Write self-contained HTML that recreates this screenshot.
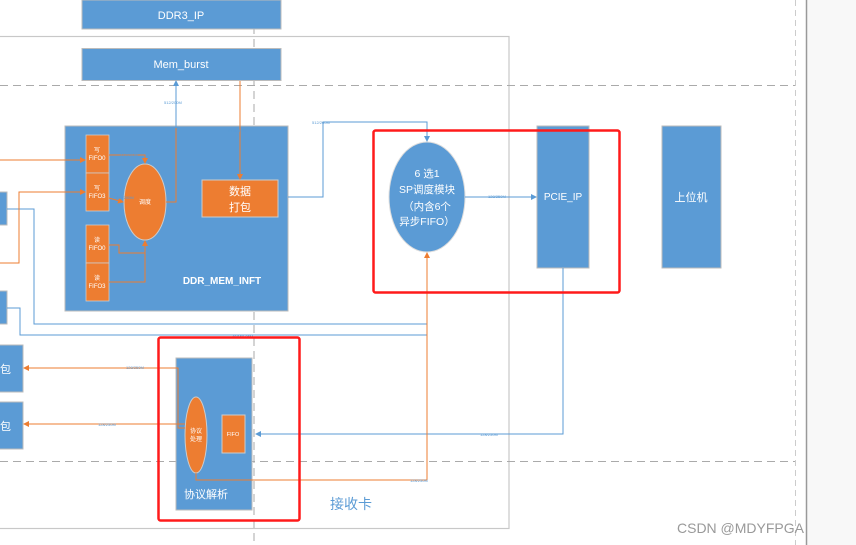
<!DOCTYPE html>
<html><head><meta charset="utf-8"><style>
html,body{margin:0;padding:0;background:#fff}
svg{display:block}
text{font-family:"Liberation Sans","Noto Sans CJK SC",sans-serif}
</style></head><body>
<svg width="856" height="545" viewBox="0 0 856 545" xmlns="http://www.w3.org/2000/svg">
<defs>
<marker id="ab" markerWidth="6" markerHeight="6" refX="5" refY="3" orient="auto" markerUnits="userSpaceOnUse"><path d="M0,0 L6,3 L0,6 z" fill="#5b9bd5"/></marker>
<marker id="ao" markerWidth="6" markerHeight="6" refX="5" refY="3" orient="auto" markerUnits="userSpaceOnUse"><path d="M0,0 L6,3 L0,6 z" fill="#ed7d31"/></marker>
</defs>
<rect x="806" y="0" width="50" height="545" fill="#f8f8f8"/>
<line x1="806.5" y1="0" x2="806.5" y2="545" stroke="#999" stroke-width="1.5"/>
<line x1="795.5" y1="0" x2="795.5" y2="545" stroke="#ccc" stroke-dasharray="6,4"/>
<rect x="-1" y="36.5" width="510" height="492" fill="none" stroke="#c8c8c8" stroke-width="1.2"/>
<line x1="0" y1="85.5" x2="795" y2="85.5" stroke="#aaa" stroke-dasharray="8,5"/>
<line x1="0" y1="461.5" x2="795" y2="461.5" stroke="#aaa" stroke-dasharray="8,5"/>
<line x1="254" y1="0" x2="254" y2="545" stroke="#aaa" stroke-dasharray="8,5"/>

<rect x="82" y="0" width="199" height="29" fill="#5b9bd5" stroke="#bbb"/>
<text x="181" y="19" fill="#fff" font-size="11" text-anchor="middle">DDR3_IP</text>
<rect x="82" y="48.5" width="199" height="32" fill="#5b9bd5" stroke="#bbb"/>
<text x="181" y="68" fill="#fff" font-size="11" text-anchor="middle">Mem_burst</text>

<rect x="65" y="126" width="223" height="185" fill="#5b9bd5" stroke="#bbb"/>
<text x="222" y="284" fill="#fff" font-size="10" font-weight="bold" text-anchor="middle">DDR_MEM_INFT</text>
<g fill="#ed7d31" stroke="#ccc" stroke-width="0.8">
<rect x="86" y="135" width="23" height="38"/><rect x="86" y="173" width="23" height="38"/>
<rect x="86" y="225" width="23" height="38"/><rect x="86" y="263" width="23" height="38"/>
</g>
<g fill="#fff" font-size="6" text-anchor="middle">
<text x="97" y="152">写</text><text x="97" y="160">FIFO0</text>
<text x="97" y="190">写</text><text x="97" y="198">FIFO3</text>
<text x="97" y="242">读</text><text x="97" y="250">FIFO0</text>
<text x="97" y="280">读</text><text x="97" y="288">FIFO3</text>
</g>
<ellipse cx="145" cy="202" rx="21" ry="38" fill="#ed7d31" stroke="#ccc"/>
<text x="145" y="204" fill="#fff" font-size="6" text-anchor="middle">调度</text>
<rect x="202" y="180" width="76" height="37" fill="#ed7d31" stroke="#ccc"/>
<text x="240" y="195" fill="#fff" font-size="11" text-anchor="middle">数据</text>
<text x="240" y="211" fill="#fff" font-size="11" text-anchor="middle">打包</text>

<rect x="-1" y="192" width="8" height="33" fill="#5b9bd5" stroke="#bbb"/>
<rect x="-1" y="291" width="8" height="33" fill="#5b9bd5" stroke="#bbb"/>
<rect x="-1" y="345" width="24" height="47" fill="#5b9bd5" stroke="#bbb"/>
<rect x="-1" y="402" width="24" height="47" fill="#5b9bd5" stroke="#bbb"/>
<text x="0" y="373" fill="#fff" font-size="11">包</text>
<text x="0" y="430" fill="#fff" font-size="11">包</text>

<ellipse cx="427" cy="197" rx="38" ry="55" fill="#5b9bd5" stroke="#ddd"/>
<g fill="#fff" font-size="10.5" text-anchor="middle">
<text x="427" y="177">6 选1</text><text x="427" y="193">SP调度模块</text>
<text x="427" y="210">（内含6个</text><text x="427" y="225">异步FIFO）</text>
</g>
<rect x="537" y="126" width="52" height="142" fill="#5b9bd5" stroke="#bbb"/>
<text x="563" y="200" fill="#fff" font-size="10" text-anchor="middle">PCIE_IP</text>
<rect x="662" y="126" width="59" height="142" fill="#5b9bd5" stroke="#bbb"/>
<text x="691" y="201" fill="#fff" font-size="11" text-anchor="middle">上位机</text>

<rect x="176" y="358" width="76" height="152" fill="#5b9bd5" stroke="#bbb"/>
<ellipse cx="196" cy="435" rx="11" ry="38" fill="#ed7d31" stroke="#ccc"/>
<text x="196" y="433" fill="#fff" font-size="6" text-anchor="middle">协议</text>
<text x="196" y="441" fill="#fff" font-size="6" text-anchor="middle">处理</text>
<rect x="222" y="415" width="23" height="38" fill="#ed7d31" stroke="#ccc"/>
<text x="233" y="436" fill="#fff" font-size="5.5" text-anchor="middle">FIFO</text>
<text x="184" y="498" fill="#fff" font-size="11">协议解析</text>
<text x="330" y="509" fill="#5b9bd5" font-size="14">接收卡</text>

<g fill="none" stroke="#5b9bd5" stroke-width="1">
<polyline points="288,197 323,197 323,122 427,122 427,141" marker-end="url(#ab)"/>
<polyline points="176,128 176,81" marker-end="url(#ab)"/>
<polyline points="465,197 536,197" marker-end="url(#ab)"/>
<polyline points="563,268 563,434 256,434" marker-end="url(#ab)"/>
<polyline points="7,209 34,209 34,324 427,324"/>
<polyline points="7,308 20,308 20,335 427,335"/>
</g>
<g fill="none" stroke="#ed7d31" stroke-width="1">
<polyline points="0,160 85,160" marker-end="url(#ao)"/>
<polyline points="0,263 19,263 19,192 85,192" marker-end="url(#ao)"/>
<polyline points="109,155 145,155 145,163" marker-end="url(#ao)"/>
<polyline points="109,198 123,202" marker-end="url(#ao)"/>
<polyline points="166,202 176,202 176,128"/>
<polyline points="240,81 240,179" marker-end="url(#ao)"/>
<polyline points="109,245 119,245 119,253 145,253 145,241" marker-end="url(#ao)"/>
<polyline points="109,282 145,282 145,253"/>
<polyline points="427,480 427,253" marker-end="url(#ao)"/>
<polyline points="196,473 196,480 427,480"/>
<polyline points="185,428 178,428 178,368 24,368" marker-end="url(#ao)"/>
<polyline points="185,424 24,424" marker-end="url(#ao)"/>
</g>
<g fill="#5b9bd5" font-size="4">
<text x="164" y="104">512/200M</text><text x="228" y="132">512/200M</text>
<text x="312" y="124">512/200M</text><text x="488" y="198">128/250M</text>
<text x="120" y="156">512/200M</text><text x="116" y="199">512/200M</text>
<text x="232" y="338">48/150.95M</text><text x="126" y="369">128/250M</text>
<text x="98" y="426">128/250M</text><text x="480" y="436">128/250M</text>
<text x="410" y="482">128/250M</text>
</g>

<rect x="373.5" y="130.5" width="246" height="162" rx="2" fill="none" stroke="#ff1a1a" stroke-width="2.5"/>
<rect x="158.5" y="337.5" width="141" height="183" rx="2" fill="none" stroke="#ff1a1a" stroke-width="2.5"/>
<text x="677" y="533" fill="#999" font-size="14">CSDN @MDYFPGA</text>
</svg>
</body></html>
